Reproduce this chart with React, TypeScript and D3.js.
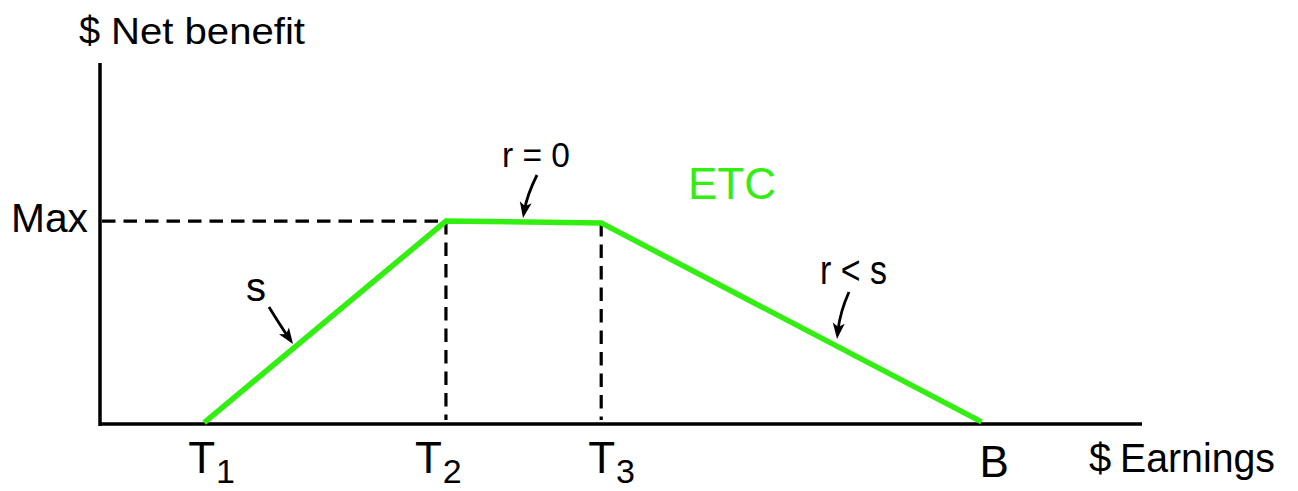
import React from "react";
import * as d3 from "d3";

// ---- data ----
const pointNames = ["T1", "T2", "T3", "B"];
const earnings = [10, 33.2, 48.1, 84.6];
const netBenefit = [0.4, 56.2, 55.7, 0.6];
const maxValue = 56.2;
const tickMain = ["T", "T", "T", "B"];
const tickSub = ["1", "2", "3", ""];
const slopeLabels = ["s", "r = 0", "r < s"];
const seriesLabel = "ETC";
const yTitle = "Net benefit";
const xTitle = "Earnings";
const yTickLabel = "Max";

// ---- layout (pixels) ----
const W = 1298;
const H = 491;
const X0 = 100, X1 = 1142, Y0 = 424, Y1 = 63;
const GREEN = "#33ee11";
const FONT = "'Liberation Sans', Arial, Helvetica, sans-serif";
const tickDx = [-16, -31, -13, -2];
const tickBaseline = [473, 473, 473, 477];
// annotation: label pos, arrow start, control, tip (pixels)
const annos = [
  { lx: 246, ly: 301, fs: 40, tl: 0, start: [269, 307], ctrl: [280, 325], tip: [293, 344] },
  { lx: 502, ly: 167, fs: 35, tl: 68, start: [537, 175], ctrl: [527, 195], tip: [523, 218] },
  { lx: 820, ly: 284, fs: 40, tl: 67, start: [849, 292], ctrl: [840, 312], tip: [837, 339] },
];

export default function App() {
  const x = d3.scaleLinear().domain([0, 100]).range([X0, X1]);
  const y = d3.scaleLinear().domain([0, 100]).range([Y0, Y1]);
  const pts = earnings.map((e, i) => [x(e), y(netBenefit[i])] as [number, number]);
  const line = d3.line<[number, number]>()(pts) || "";

  const arrowHead = (tip: number[], ctrl: number[]) => {
    const ang = Math.atan2(tip[1] - ctrl[1], tip[0] - ctrl[0]);
    const L = 16, Wd = 6;
    const bx = tip[0] - L * Math.cos(ang), by = tip[1] - L * Math.sin(ang);
    const px = -Math.sin(ang) * Wd, py = Math.cos(ang) * Wd;
    return `M${tip[0]},${tip[1]} L${bx + px},${by + py} L${bx + L * 0.25 * Math.cos(ang)},${by + L * 0.25 * Math.sin(ang)} L${bx - px},${by - py} Z`;
  };

  return (
    <svg width={W} height={H} style={{ position: "absolute", left: 0, top: 0, background: "#fff" }} fontFamily={FONT}>
      {/* axes */}
      <line x1={X0} y1={Y1} x2={X0} y2={Y0 + 2} stroke="#000" strokeWidth={3.5} />
      <line x1={X0 - 1} y1={Y0} x2={X1} y2={Y0} stroke="#000" strokeWidth={3.5} />
      {/* Max dashed */}
      <line x1={X0 + 2} y1={y(maxValue)} x2={x(earnings[1])} y2={y(maxValue)} stroke="#000" strokeWidth={3.2} strokeDasharray="13.5 8" />
      {/* vertical dashed at T2, T3 */}
      {[1, 2].map((i) => (
        <line key={i} x1={x(earnings[i])} y1={y(netBenefit[i])} x2={x(earnings[i])} y2={Y0 - 4} stroke="#000" strokeWidth={3.2} strokeDasharray="13.5 8" />
      ))}
      {/* ETC line */}
      <path d={line} fill="none" stroke={GREEN} strokeWidth={5.5} strokeLinejoin="miter" />
      {/* annotations */}
      {annos.map((a, i) => (
        <g key={i}>
          <text x={a.lx} y={a.ly} fontSize={a.fs} fill="#000" {...(a.tl ? { textLength: a.tl, lengthAdjust: "spacingAndGlyphs" } : {})}>
            {slopeLabels[i]}
          </text>
          <path d={`M${a.start[0]},${a.start[1]} Q${a.ctrl[0]},${a.ctrl[1]} ${a.tip[0] - (a.tip[0] - a.ctrl[0]) * 0.3},${a.tip[1] - (a.tip[1] - a.ctrl[1]) * 0.3}`} fill="none" stroke="#000" strokeWidth={2.8} />
          <path d={arrowHead(a.tip, a.ctrl)} fill="#000" />
        </g>
      ))}
      {/* ETC label */}
      <text x={688} y={199} fontSize={44} fill={GREEN} textLength={88} lengthAdjust="spacingAndGlyphs">{seriesLabel}</text>
      {/* y axis title */}
      <text x={79} y={44} fontSize={38} fill="#000">$</text>
      <text x={111} y={44} fontSize={36} fill="#000" textLength={194} lengthAdjust="spacingAndGlyphs">{yTitle}</text>
      {/* Max */}
      <text x={11} y={y(maxValue) + 10.5} fontSize={40} fill="#000" textLength={77} lengthAdjust="spacingAndGlyphs">{yTickLabel}</text>
      {/* x ticks */}
      {pointNames.map((n, i) => (
        <text key={n} x={x(earnings[i]) + tickDx[i]} y={tickBaseline[i]} fontSize={44} fill="#000">
          {tickMain[i]}
          {tickSub[i] && <tspan dx={1} dy={10} fontSize={34}>{tickSub[i]}</tspan>}
        </text>
      ))}
      {/* x axis title */}
      <text x={1089} y={472} fontSize={40} fill="#000">$</text>
      <text x={1120} y={472} fontSize={40} fill="#000" textLength={155} lengthAdjust="spacingAndGlyphs">{xTitle}</text>
    </svg>
  );
}
